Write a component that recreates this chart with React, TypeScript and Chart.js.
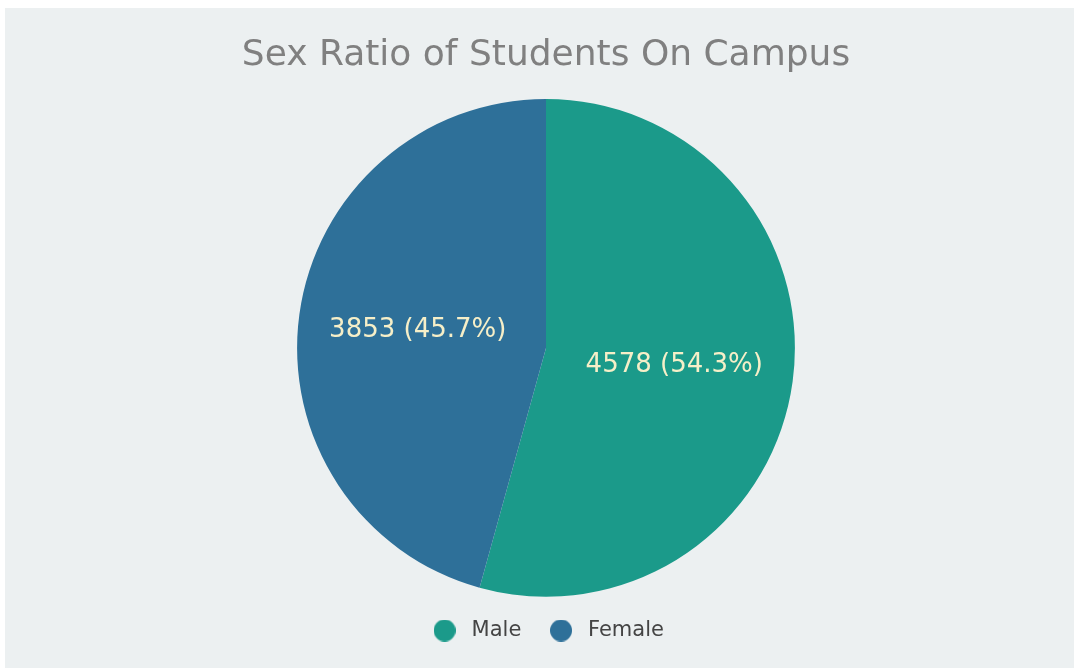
import React, { useEffect, useRef } from "react";
import { Chart, registerables } from "chart.js";

Chart.register(...registerables);

const categories = ["Male", "Female"];
const counts = [4578, 3853];
const sliceColors = ["#1b9a8a", "#2e7099"];
const titleText = "Sex Ratio of Students On Campus";

const FONT = "'DejaVu Sans', Verdana, sans-serif";

function makeDot(color: string, r: number): HTMLCanvasElement {
  const c = document.createElement("canvas");
  c.width = r * 2;
  c.height = r * 2;
  const ctx = c.getContext("2d")!;
  ctx.fillStyle = color;
  ctx.beginPath();
  ctx.arc(r, r, r, 0, Math.PI * 2);
  ctx.fill();
  return c;
}

const sliceLabelPlugin = {
  id: "sliceLabels",
  afterDatasetsDraw(chart: any) {
    const ctx = chart.ctx;
    const meta = chart.getDatasetMeta(0);
    const data = chart.data.datasets[0].data as number[];
    const total = data.reduce((a, b) => a + b, 0);
    ctx.save();
    ctx.font = `26px ${FONT}`;
    ctx.fillStyle = "#f6efc8";
    ctx.textAlign = "center";
    ctx.textBaseline = "middle";
    meta.data.forEach((arc: any, i: number) => {
      const { x, y, startAngle, endAngle, outerRadius } = arc.getProps(
        ["x", "y", "startAngle", "endAngle", "outerRadius"],
        true
      );
      const mid = (startAngle + endAngle) / 2;
      const r = outerRadius * 0.52;
      const pct = ((data[i] / total) * 100).toFixed(1);
      ctx.fillText(`${data[i]} (${pct}%)`, x + Math.cos(mid) * r, y + Math.sin(mid) * r);
    });
    ctx.restore();
  },
};

export default function App() {
  const ref = useRef<HTMLCanvasElement | null>(null);

  useEffect(() => {
    if (!ref.current) return;
    const dots = sliceColors.map((c) => makeDot(c, 11));
    const chart = new Chart(ref.current, {
      type: "pie",
      data: {
        labels: categories,
        datasets: [
          {
            data: counts,
            backgroundColor: sliceColors,
            borderWidth: 0,
          },
        ],
      },
      options: {
        animation: false,
        responsive: false,
        maintainAspectRatio: false,
        layout: { padding: { left: 13, right: 0, top: 0, bottom: 17 } },
        plugins: {
          title: {
            display: true,
            text: titleText,
            color: "#808080",
            font: { family: FONT, size: 36, weight: "normal" as any, lineHeight: 1.2 },
            padding: { top: 26.4, bottom: 21.4 },
          },
          legend: {
            display: true,
            position: "bottom",
            labels: {
              color: "#444444",
              font: { family: FONT, size: 21 },
              usePointStyle: true,
              pointStyleWidth: 33,
              boxHeight: 21,
              padding: 23.2,
              generateLabels: (ch: any) =>
                categories.map((t, i) => ({
                  text: t,
                  fillStyle: sliceColors[i],
                  strokeStyle: sliceColors[i],
                  lineWidth: 0,
                  pointStyle: dots[i],
                  hidden: !ch.getDataVisibility(i),
                  index: i,
                  fontColor: "#444444",
                })),
            },
          },
          tooltip: { enabled: false },
        },
      },
      plugins: [sliceLabelPlugin],
    });
    return () => chart.destroy();
  }, []);

  return (
    <div
      style={{
        position: "absolute",
        left: 5,
        top: 8,
        width: 1069,
        height: 660,
        background: "#ecf0f1",
      }}
    >
      <canvas ref={ref} width={1069} height={660} style={{ display: "block" }} />
    </div>
  );
}
